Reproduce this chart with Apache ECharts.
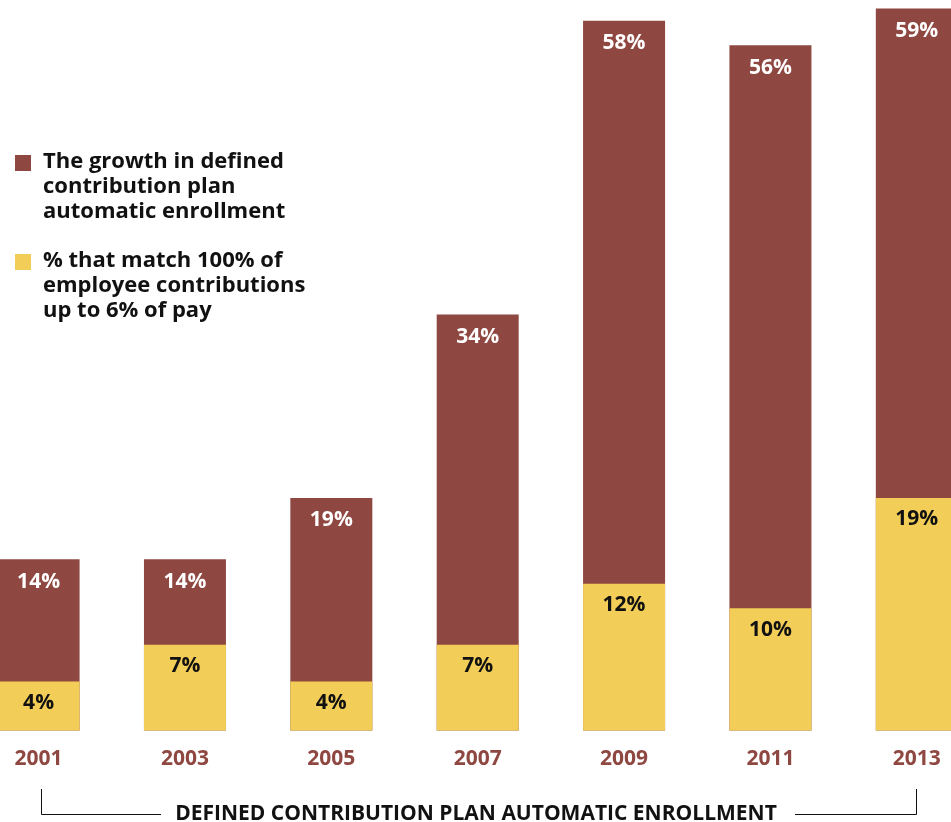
<!DOCTYPE html>
<html>
<head>
<meta charset="utf-8">
<script src="https://cdn.jsdelivr.net/npm/echarts@6/dist/echarts.min.js"></script>
<style>
  html, body { margin: 0; padding: 0; background: #ffffff; overflow: hidden; }
  /* the plot is wider than the page so the outer bars run off both edges */
  #chart { position: absolute; left: -35px; top: 0; width: 1025px; height: 822px; }
</style>
</head>
<body>
<div id="chart"></div>
<script>
// Survey years on the category axis
var years = ['2001', '2003', '2005', '2007', '2009', '2011', '2013'];
// Plans with automatic enrollment (%)
var autoEnrollment = [14, 14, 19, 34, 58, 56, 59];
// Plans matching 100% of contributions up to 6% of pay (%)
var fullMatch = [4, 7, 4, 7, 12, 10, 19];
// Series names shown in the key
var seriesNames = [
  'The growth in defined\ncontribution plan\nautomatic enrollment',
  '% that match 100% of\nemployee contributions\nup to 6% of pay'
];
var axisTitle = 'DEFINED CONTRIBUTION PLAN AUTOMATIC ENROLLMENT';

var RED = '#8f4841';
var YELLOW = '#f2cd57';
var FONT = '"Open Sans", "Noto Sans", sans-serif';
var OFF = 35; // page x = chart x - OFF

var chart = echarts.init(document.getElementById('chart'), null, { renderer: 'canvas' });

function pct(p) { return p.value + '%'; }

chart.setOption({
  backgroundColor: '#ffffff',
  animation: false,
  grid: { left: 0.4, right: 0, top: 0, bottom: 91.5, containLabel: false },
  xAxis: {
    type: 'category',
    data: years,
    axisLine: { show: false },
    axisTick: { show: false },
    axisLabel: {
      margin: 18,
      color: RED,
      fontFamily: FONT,
      fontWeight: 'bold',
      fontSize: 21
    }
  },
  yAxis: {
    type: 'value',
    min: 0,
    max: 59.7,
    show: false,
    splitLine: { show: false }
  },
  series: [
    {
      name: seriesNames[0],
      type: 'bar',
      data: autoEnrollment,
      barWidth: 82,
      barGap: '-100%',
      itemStyle: { color: RED },
      z: 2,
      label: {
        show: true,
        position: 'insideTop',
        distance: 12,
        formatter: pct,
        color: '#ffffff',
        fontFamily: FONT,
        fontWeight: 'bold',
        fontSize: 21
      }
    },
    {
      name: seriesNames[1],
      type: 'bar',
      data: fullMatch,
      barWidth: 82,
      barGap: '-100%',
      itemStyle: { color: YELLOW },
      z: 3,
      label: {
        show: true,
        position: 'insideTop',
        distance: 11,
        formatter: pct,
        color: '#111111',
        fontFamily: FONT,
        fontWeight: 'bold',
        fontSize: 21
      }
    }
  ],
  graphic: [
    // key: swatches and wrapped series names
    { type: 'rect', left: 15 + OFF, top: 155, shape: { width: 16, height: 16 }, style: { fill: RED } },
    { type: 'text', left: 43 + OFF, top: 149, style: {
        text: seriesNames[0], fill: '#111111', font: 'bold 22px ' + FONT, lineHeight: 25 } },
    { type: 'rect', left: 15 + OFF, top: 254, shape: { width: 16, height: 16 }, style: { fill: YELLOW } },
    { type: 'text', left: 43 + OFF, top: 248, style: {
        text: seriesNames[1], fill: '#111111', font: 'bold 22px ' + FONT, lineHeight: 25 } },
    // bracket spanning the years, with its caption
    { type: 'polyline', shape: { points: [[41.5 + OFF, 789], [41.5 + OFF, 814.5], [161 + OFF, 814.5]] },
      style: { stroke: '#111111', lineWidth: 1, fill: null } },
    { type: 'polyline', shape: { points: [[795 + OFF, 814.5], [916.5 + OFF, 814.5], [916.5 + OFF, 789]] },
      style: { stroke: '#111111', lineWidth: 1, fill: null } },
    { type: 'text', x: 476 + OFF, y: 814, style: {
        text: axisTitle, fill: '#111111', font: 'bold 21px ' + FONT,
        align: 'center', verticalAlign: 'middle' } }
  ]
});
</script>
</body>
</html>
